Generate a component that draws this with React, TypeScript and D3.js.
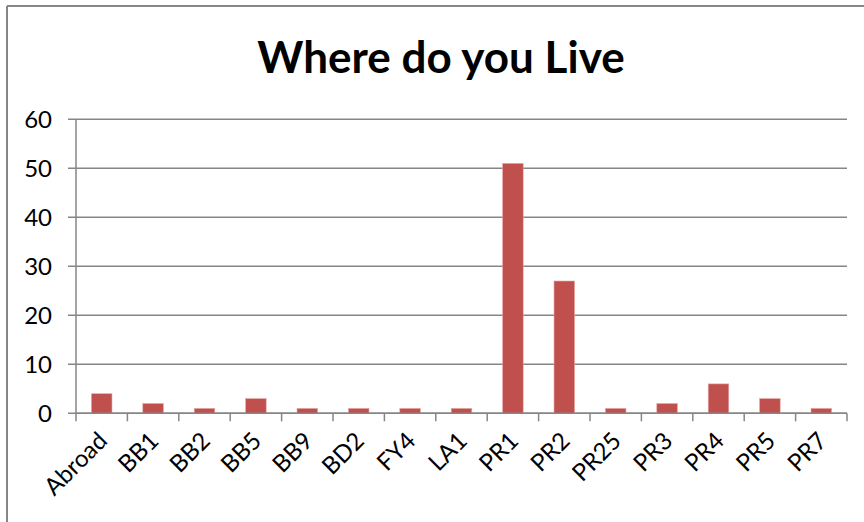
import React from "react";
import * as d3 from "d3";

const categories = ["Abroad", "BB1", "BB2", "BB5", "BB9", "BD2", "FY4", "LA1", "PR1", "PR2", "PR25", "PR3", "PR4", "PR5", "PR7"];
const values = [4, 2, 1, 3, 1, 1, 1, 1, 51, 27, 1, 2, 6, 3, 1];
const yTicks = [0, 10, 20, 30, 40, 50, 60];
const title = "Where do you Live";

const W = 864;
const H = 522;
const plot = { left: 76, right: 847, top: 119.3, bottom: 413.3 };
const FONT = "Lato, Carlito, Calibri, sans-serif";

export default function App() {
  const x = d3.scaleBand<string>().domain(categories).range([plot.left, plot.right]).paddingInner(0).paddingOuter(0);
  const y = d3.scaleLinear().domain([0, 60]).range([plot.bottom, plot.top]);
  const bw = x.bandwidth();
  const barW = bw / 2.5;
  const grid = "#868686";
  return (
    <svg width={W} height={H} style={{ position: "absolute", left: 0, top: 0, background: "#fff" }}>
      <rect x={0} y={0} width={W} height={H} fill="#fff" />
      {/* chart frame */}
      <line x1={7} y1={6} x2={W + 2} y2={6} stroke={grid} strokeWidth={2} />
      <line x1={7} y1={6} x2={7} y2={H + 2} stroke={grid} strokeWidth={2} />
      <text x={441} y={73} textAnchor="middle" fontFamily={FONT} fontWeight="bold" fontSize={44} fill="#000">{title}</text>
      {/* gridlines */}
      {yTicks.map((t) => (
        <g key={t}>
          <line x1={plot.left - 8} x2={plot.right} y1={y(t)} y2={y(t)} stroke={grid} strokeWidth={1.5} />
          <text x={52} y={y(t)} dy="0.36em" textAnchor="end" fontFamily={FONT} fontSize={24} fill="#000">{t}</text>
        </g>
      ))}
      {/* y axis */}
      <line x1={plot.left} x2={plot.left} y1={plot.top} y2={plot.bottom} stroke={grid} strokeWidth={1.5} />
      {/* bars */}
      {categories.map((c, i) => {
        const cx = (x(c) as number) + bw / 2;
        return (
          <rect key={c} x={cx - barW / 2} y={y(values[i])} width={barW} height={plot.bottom - y(values[i])} fill="#C0504D" stroke="#E6A7A5" strokeWidth={0.6} />
        );
      })}
      {/* x axis */}
      <line x1={plot.left} x2={plot.right} y1={plot.bottom} y2={plot.bottom} stroke={grid} strokeWidth={1.5} />
      {d3.range(categories.length + 1).map((i) => {
        const tx = plot.left + i * bw;
        return <line key={i} x1={tx} x2={tx} y1={plot.bottom} y2={plot.bottom + 8} stroke={grid} strokeWidth={1.5} />;
      })}
      {categories.map((c) => {
        const cx = (x(c) as number) + bw / 2;
        return (
          <text key={c} transform={`translate(${cx + 7},${plot.bottom + 29}) rotate(-45)`} textAnchor="end" fontFamily={FONT} fontSize={24} fill="#000">{c}</text>
        );
      })}
    </svg>
  );
}
